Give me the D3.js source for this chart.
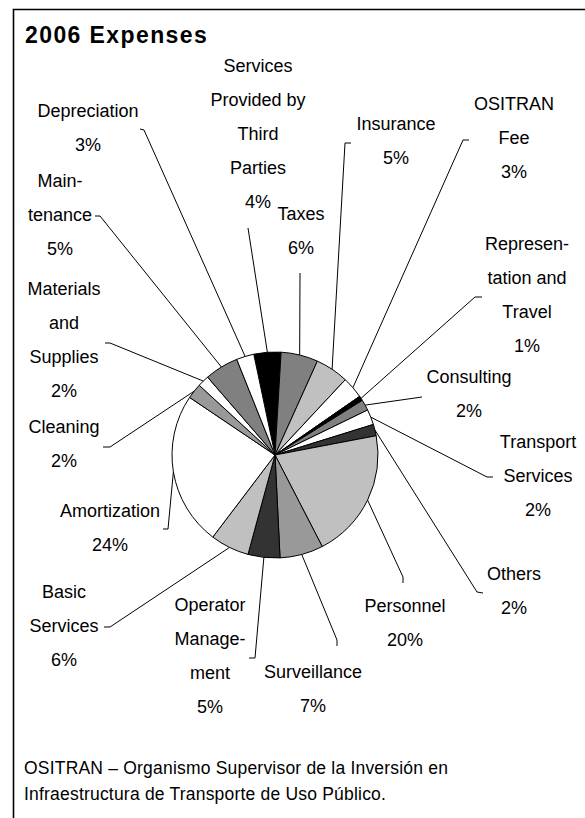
<!DOCTYPE html>
<html>
<head>
<meta charset="utf-8">
<script src="https://cdn.jsdelivr.net/npm/d3@7"></script>
<style>
  html, body { margin: 0; padding: 0; background: #fff; }
  svg { display: block; }
  text { font-family: "Liberation Sans", Arial, sans-serif; fill: #000; }
</style>
</head>
<body>
<svg id="chart" width="585" height="818"></svg>
<script>
// Expense categories, clockwise from the top of the pie (line breaks as displayed)
const categories = [
  "Services\nProvided by\nThird\nParties",
  "Taxes",
  "Insurance",
  "OSITRAN\nFee",
  "Represen-\ntation and\nTravel",
  "Consulting",
  "Transport\nServices",
  "Others",
  "Personnel",
  "Surveillance",
  "Operator\nManage-\nment",
  "Basic\nServices",
  "Amortization",
  "Cleaning",
  "Materials\nand\nSupplies",
  "Main-\ntenance",
  "Depreciation"
];

// Share of 2006 expenses, in percent
const shares = [4.25, 5.8, 5.2, 3.4, 0.75, 1.7, 2.4, 1.8, 20.4, 6.8, 5.0, 6.1, 24.1, 2.4, 1.8, 5.3, 2.75];

// Slice fills, one per category
const fills = [
  "#000000", "#808080", "#c0c0c0", "#ffffff", "#000000", "#808080", "#ffffff", "#333333",
  "#c0c0c0", "#999999", "#333333", "#c0c0c0", "#ffffff", "#999999", "#ffffff", "#808080", "#ffffff"
];

const title = "2006 Expenses";
const footnote = [
  "OSITRAN \u2013 Organismo Supervisor de la Inversi\u00f3n en",
  "Infraestructura de Transporte de Uso P\u00fablico."
];

// Label placement: text centre, first baseline, and leader-line points nearest the text
const labelLayout = [
  { x: 258, y: 72,  leader: [[248, 228]] },
  { x: 301, y: 220, leader: [[300, 273]] },
  { x: 396, y: 130, leader: [[351, 143], [345, 143]] },
  { x: 514, y: 110, leader: [[469, 140], [463, 140]] },
  { x: 527, y: 250, leader: [[482, 297], [475, 297]] },
  { x: 469, y: 383, leader: [[422, 397]] },
  { x: 538, y: 448, leader: [[493, 477], [487, 477]] },
  { x: 514, y: 580, leader: [[483, 593], [477, 592]] },
  { x: 405, y: 612, leader: [[403, 583], [403, 577]] },
  { x: 313, y: 678, leader: [[337, 646], [337, 640]] },
  { x: 210, y: 611, leader: [[249, 658], [255, 658]] },
  { x: 64,  y: 598, leader: [[104, 627], [110, 627]] },
  { x: 110, y: 517, leader: [[163, 529], [168, 529]] },
  { x: 64,  y: 433, leader: [[103, 447], [110, 447]] },
  { x: 64,  y: 295, leader: [[105, 343], [110, 343]] },
  { x: 60,  y: 187, leader: [[95, 216], [100, 216]] },
  { x: 88,  y: 117, leader: [[140, 129], [144, 130]] }
];

const svg = d3.select("#chart");
const W = 585, H = 818;
const cx = 275, cy = 455, radius = 103;
const lineGap = 34;

// Frame (top and left edges)
svg.append("path")
  .attr("d", `M13.5,${H} L13.5,9.5 L${W},9.5`)
  .attr("fill", "none")
  .attr("stroke", "#000")
  .attr("stroke-width", 1.6);

// Title
svg.append("text")
  .attr("x", 25).attr("y", 43)
  .attr("font-size", 23).attr("font-weight", "bold")
  .attr("letter-spacing", 1.4)
  .text(title);

const data = categories.map((c, i) => ({ name: c, value: shares[i], fill: fills[i], layout: labelLayout[i] }));
const total = d3.sum(shares);

const a0 = -11.9 * Math.PI / 180;
const pie = d3.pie().sort(null).value(d => d.value).startAngle(a0).endAngle(a0 + 2 * Math.PI);
const arcs = pie(data);

const arc = d3.arc().innerRadius(0).outerRadius(radius);
const rim = d3.arc().innerRadius(radius).outerRadius(radius);

const g = svg.append("g").attr("transform", `translate(${cx},${cy})`);
g.selectAll("path.slice")
  .data(arcs)
  .join("path")
  .attr("class", "slice")
  .attr("d", arc)
  .attr("fill", d => d.data.fill)
  .attr("stroke", "#000")
  .attr("stroke-width", 1)
  .attr("stroke-linejoin", "round");

// Leader lines from each slice rim to its label
const line = d3.line();
svg.selectAll("path.leader")
  .data(arcs)
  .join("path")
  .attr("class", "leader")
  .attr("fill", "none")
  .attr("stroke", "#000")
  .attr("stroke-width", 1)
  .attr("d", d => {
    const [px, py] = rim.centroid(d);
    return line([...d.data.layout.leader, [cx + px, cy + py]]);
  });

// Labels: name lines followed by percentage
const labels = svg.selectAll("text.label")
  .data(arcs)
  .join("text")
  .attr("class", "label")
  .attr("text-anchor", "middle")
  .attr("font-size", 18);

labels.each(function(d) {
  const t = d3.select(this);
  const rows = d.data.name.split("\n").concat([Math.round(d.data.value / total * 100) + "%"]);
  rows.forEach((r, k) => {
    t.append("tspan")
      .attr("x", d.data.layout.x)
      .attr("y", d.data.layout.y + k * lineGap)
      .text(r);
  });
});

// Footnote
svg.selectAll("text.note")
  .data(footnote)
  .join("text")
  .attr("class", "note")
  .attr("x", 24)
  .attr("y", (d, i) => 774 + i * 26)
  .attr("font-size", 17.5)
  .attr("letter-spacing", 0.2)
  .text(d => d);
</script>
</body>
</html>
